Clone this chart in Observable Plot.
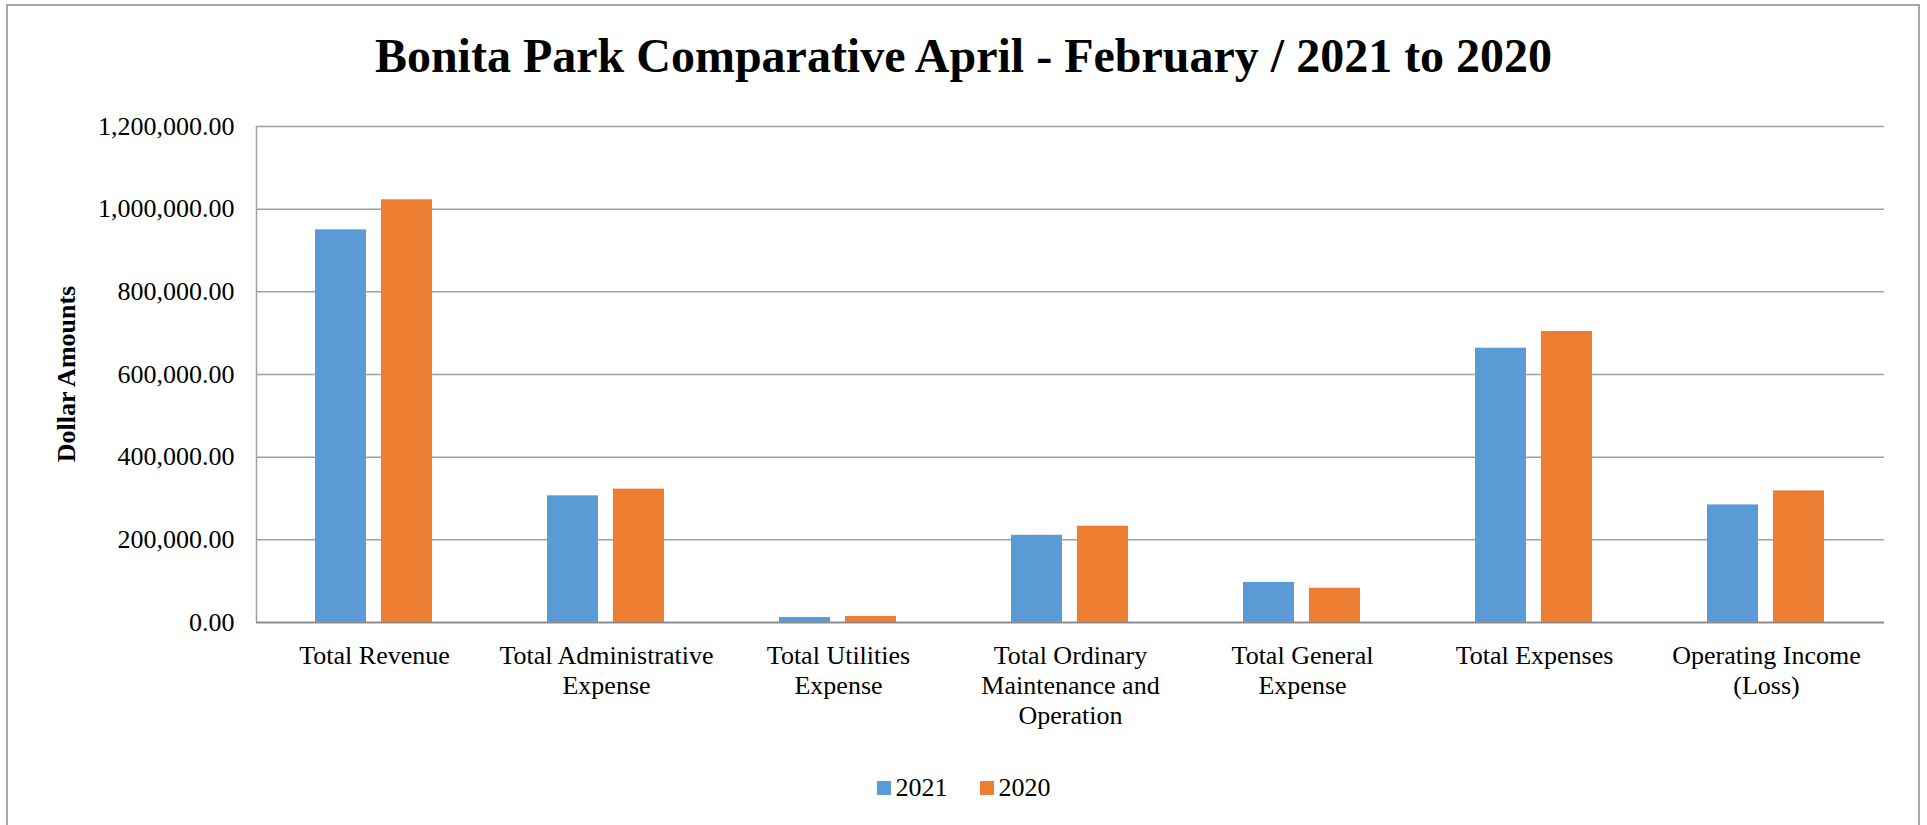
<!DOCTYPE html>
<html>
<head>
<meta charset="utf-8">
<script src="https://cdn.jsdelivr.net/npm/d3@7"></script>
<script src="https://cdn.jsdelivr.net/npm/@observablehq/plot@0.6"></script>
<style>
  html, body { margin: 0; padding: 0; background: #fff; }
  body { width: 1927px; height: 825px; position: relative; overflow: hidden; font-family: "Liberation Serif", "Times New Roman", serif; color: #000; }
  #border { position: absolute; left: 6px; top: 4px; width: 1914px; height: 840px; box-sizing: border-box; border: 2px solid #a6a6a6; }
  #title { position: absolute; left: 0; top: 32px; width: 1927px; text-align: center; font-size: 48px; font-weight: bold; line-height: 1; }
  #ylabel { position: absolute; left: 67px; top: 374px; transform: translate(-50%, -50%) rotate(-90deg); font-size: 26px; font-weight: bold; white-space: nowrap; line-height: 1; }
  .layer { position: absolute; left: 0; top: 0; }
  #legend { position: absolute; left: 0; top: 775px; width: 1927px; display: flex; justify-content: center; align-items: center; font-size: 26px; line-height: 1; }
  .item { display: flex; align-items: center; margin: 0 16px; }
  .sw { width: 14px; height: 14px; margin-right: 5px; }
</style>
</head>
<body>
<div id="border"></div>
<div id="title">Bonita Park Comparative April - February / 2021 to 2020</div>
<div id="ylabel">Dollar Amounts</div>
<div id="grid" class="layer"></div>
<div id="bars" class="layer"></div>
<div id="legend"></div>
<script>
// ---- data ----
const categories = ["Total Revenue", "Total Administrative Expense", "Total Utilities Expense", "Total Ordinary Maintenance and Operation", "Total General Expense", "Total Expenses", "Operating Income (Loss)"];
const categoryLabels = ["Total Revenue", "Total Administrative\nExpense", "Total Utilities\nExpense", "Total Ordinary\nMaintenance and\nOperation", "Total General\nExpense", "Total Expenses", "Operating Income\n(Loss)"];
const years = ["2021", "2020"];
const values2021 = [950000, 306500, 12000, 211000, 97000, 663600, 284500];
const values2020 = [1022600, 322700, 14500, 233000, 83000, 704000, 318400];
const yTicks = [0, 200000, 400000, 600000, 800000, 1000000, 1200000];
const colors = ["#5B9BD5", "#ED7D31"];

const rows = categories.flatMap((c, i) => [
  {category: c, year: years[0], value: values2021[i]},
  {category: c, year: years[1], value: values2020[i]}
]);
const labelOf = new Map(categories.map((c, i) => [c, categoryLabels[i]]));
const fmt = d3.format(",.2f");

const common = {
  width: 1927,
  height: 825,
  marginLeft: 256,
  marginRight: 43,
  marginTop: 126,
  marginBottom: 203,
  style: {fontFamily: "'Liberation Serif', 'Times New Roman', serif", fontSize: "26px", color: "#000", background: "transparent"}
};

// Layer 1: gridlines, y tick labels, axis line (spanning the whole plot area)
const gridChart = Plot.plot({
  ...common,
  x: {domain: [0, 1], axis: null},
  y: {domain: [0, 1200000], axis: null},
  marks: [
    Plot.ruleY(yTicks.filter(d => d > 0), {stroke: "#a0a0a0", strokeWidth: 1.5}),
    Plot.ruleX([0], {stroke: "#a0a0a0", strokeWidth: 1.5}),
    Plot.text(yTicks, {y: d => d, text: d => fmt(d), frameAnchor: "left", textAnchor: "end", dx: -22, fill: "#000"})
  ]
});
document.getElementById("grid").appendChild(gridChart);

// Layer 2: grouped bars and category labels
const barChart = Plot.plot({
  ...common,
  fx: {domain: categories, paddingInner: 0.49, paddingOuter: 0.245, axis: null, label: null},
  x: {domain: years, paddingInner: 0.22, paddingOuter: 0, axis: null, label: null},
  y: {domain: [0, 1200000], axis: null, label: null},
  color: {domain: years, range: colors},
  marks: [
    Plot.barY(rows, {fx: "category", x: "year", y: "value", fill: "year"}),
    Plot.axisFx({anchor: "bottom", tickSize: 0, tickPadding: 20, tickFormat: d => labelOf.get(d), lineHeight: 1.15, label: null, fill: "#000"})
  ]
});
document.getElementById("bars").appendChild(barChart);

// baseline drawn on top of bars
const baseChart = Plot.plot({
  ...common,
  y: {domain: [0, 1200000], axis: null},
  marks: [Plot.ruleY([0], {stroke: "#8c8c8c", strokeWidth: 2})]
});
const baseLayer = document.createElement("div");
baseLayer.className = "layer";
baseLayer.appendChild(baseChart);
document.body.insertBefore(baseLayer, document.getElementById("legend"));

const legend = document.getElementById("legend");
years.forEach((y, i) => {
  const item = document.createElement("div");
  item.className = "item";
  const sw = document.createElement("div");
  sw.className = "sw";
  sw.style.background = colors[i];
  const t = document.createElement("span");
  t.textContent = y;
  item.appendChild(sw);
  item.appendChild(t);
  legend.appendChild(item);
});
</script>
</body>
</html>
